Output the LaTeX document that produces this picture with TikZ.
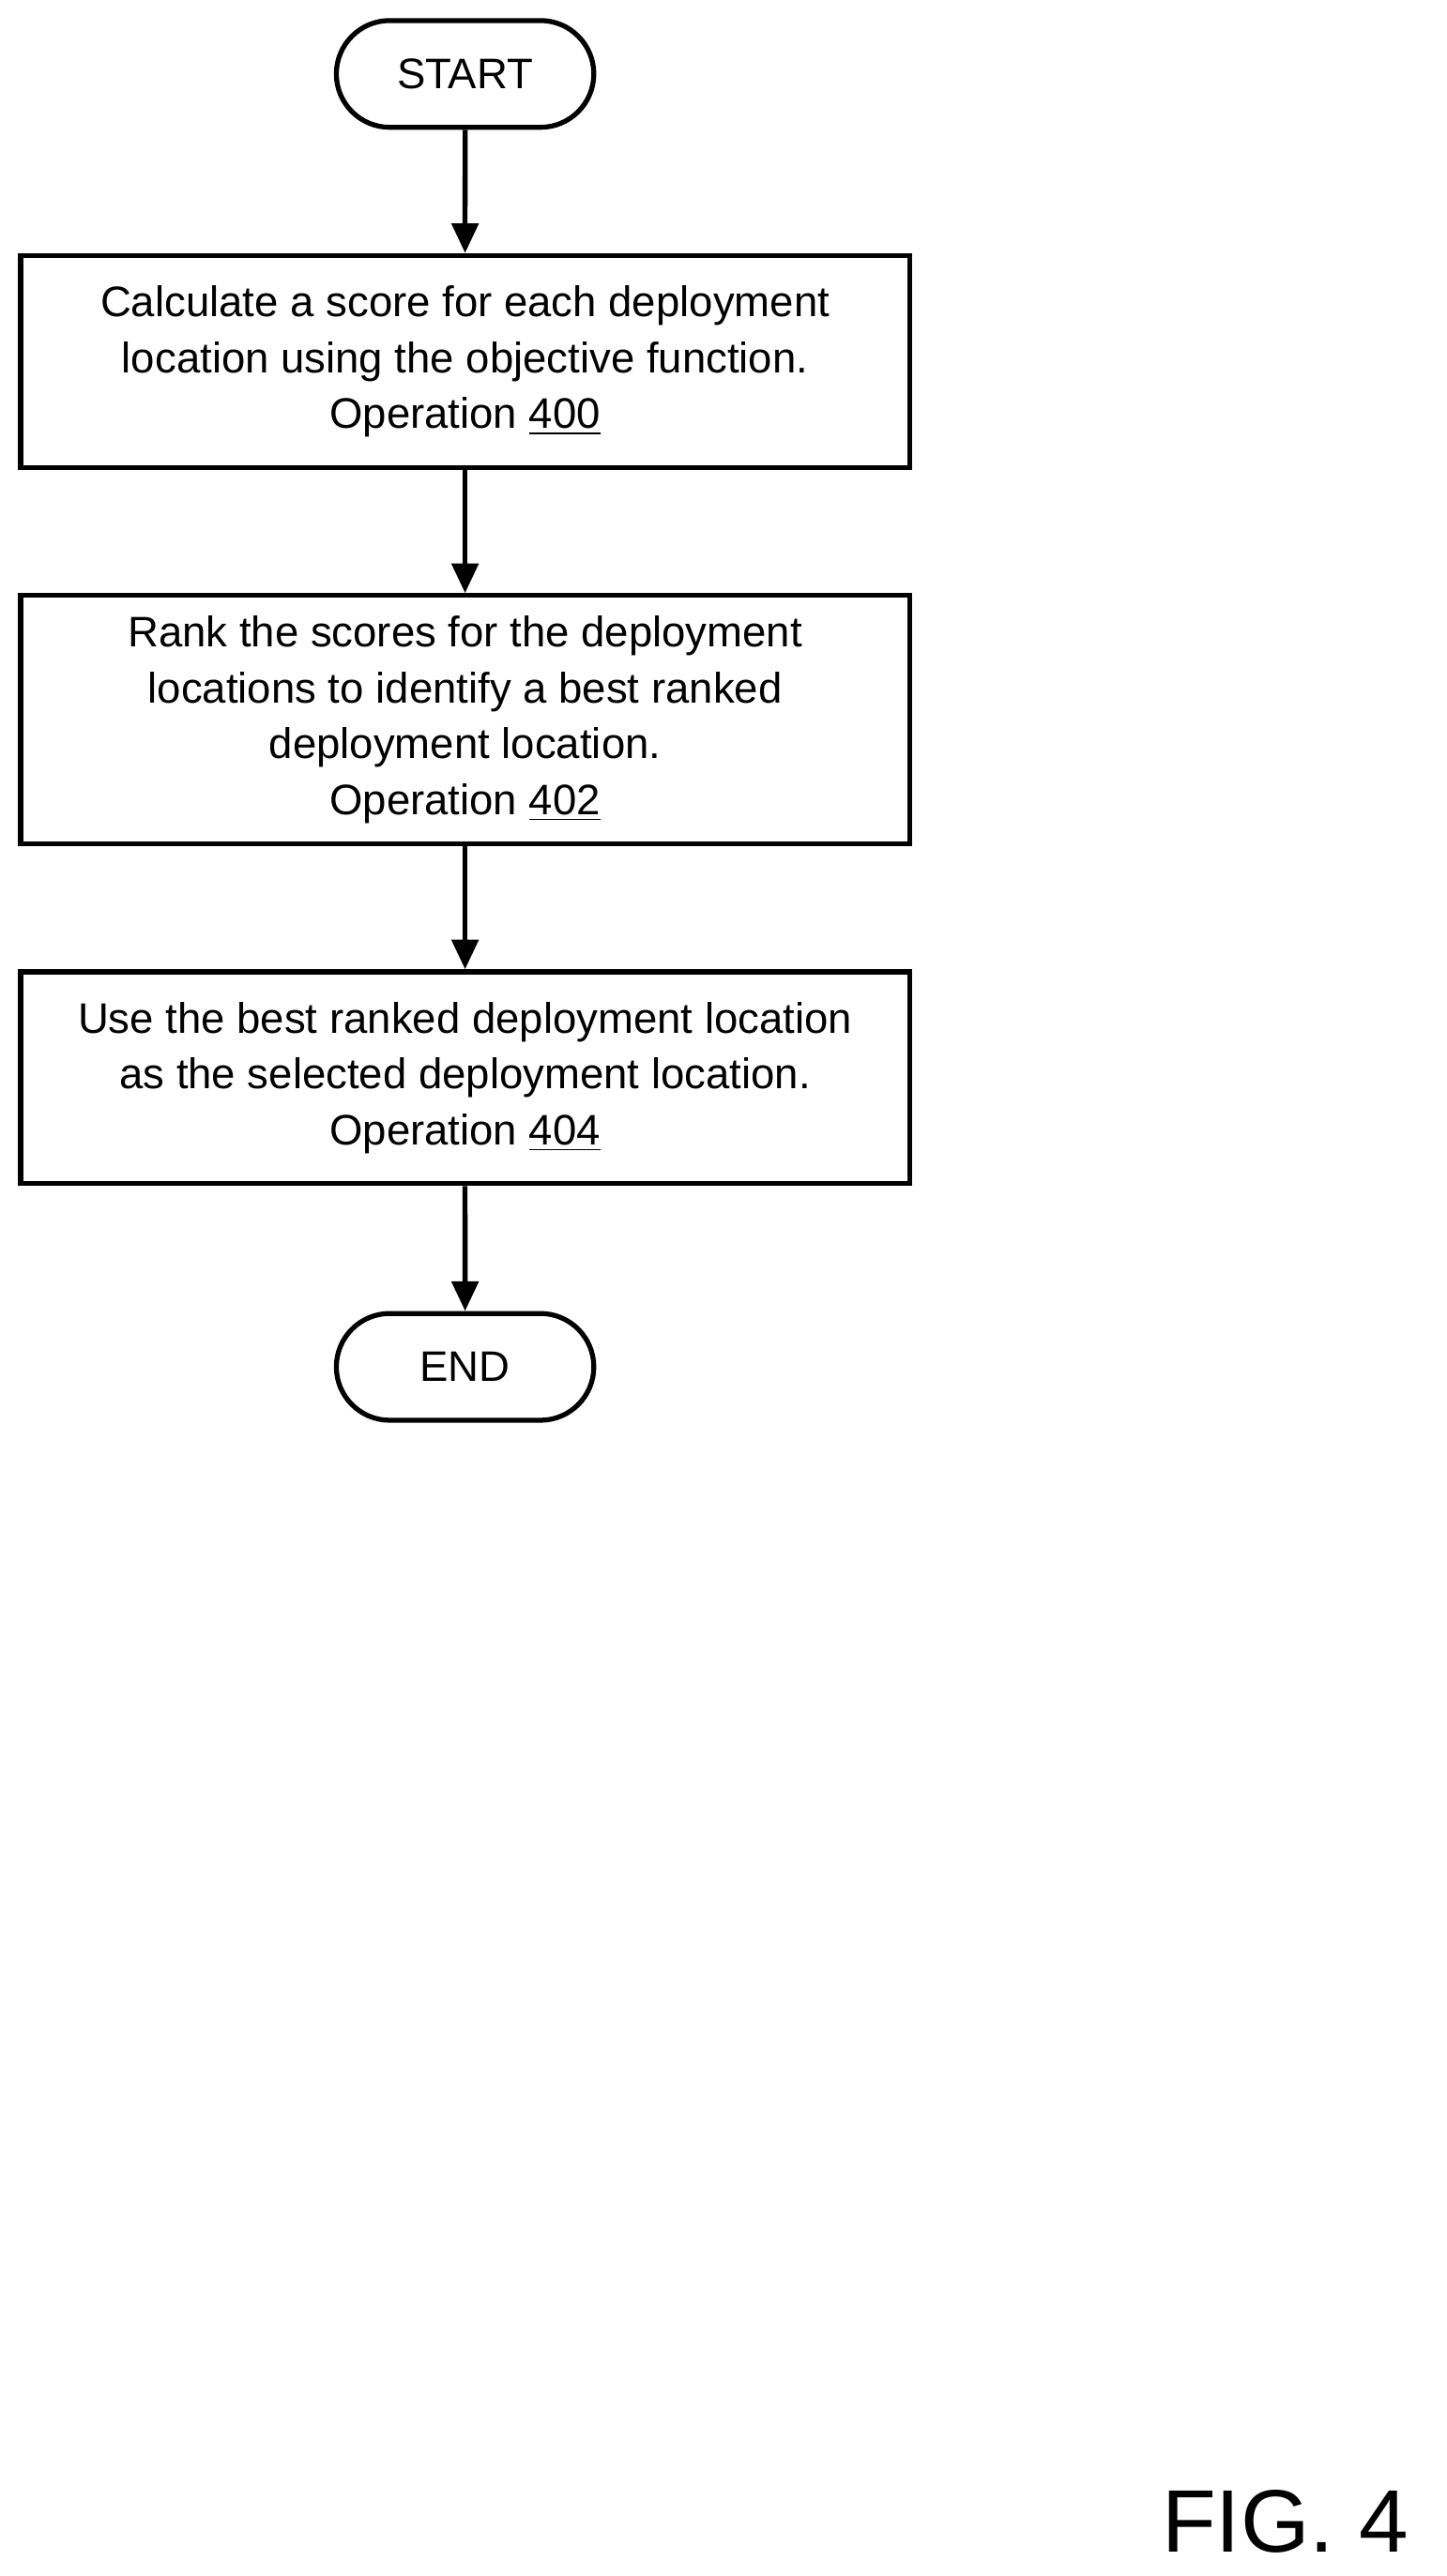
\documentclass[tikz,border=0pt]{standalone}
\usepackage{fontspec}
\setmainfont{Liberation Sans}
\usetikzlibrary{arrows.meta,shapes.misc}
\tikzset{
	opbox/.style={draw, line width=1.5pt, minimum width=270.5pt, align=center, inner sep=0pt, font=\fontsize{13}{17}\selectfont},
	term/.style={draw, line width=1.5pt, rounded rectangle, minimum width=85pt, minimum height=32.5pt, font=\fontsize{13}{17}\selectfont},
	flow/.style={line width=1.5pt, -{Triangle[length=9pt,width=8pt]}}
}
\begin{document}
\begin{tikzpicture}[x=0.5pt, y=-0.5pt]
	\useasboundingbox (0,0) rectangle (880,1568);
	%nodes
	\node[term] (start) at (283,45) {START};
	\node[opbox, minimum height=64.5pt] (calc) at (283,220) {Calculate a score for each deployment\\location using the objective function.\\Operation \underline{400}};
	\node[opbox, minimum height=75.5pt] (rank) at (283,438) {Rank the scores for the deployment\\locations to identify a best ranked\\deployment location.\\Operation \underline{402}};
	\node[opbox, minimum height=64.5pt] (use) at (283,656) {Use the best ranked deployment location\\as the selected deployment location.\\Operation \underline{404}};
	\node[term] (end) at (283,832) {END};
	%arrows
	\draw[flow] (start) -- (calc);
	\draw[flow] (calc) -- (rank);
	\draw[flow] (rank) -- (use);
	\draw[flow] (use) -- (end);
	%label
	\node[font=\fontsize{27}{30}\selectfont] (fig) at (782,1535) {FIG. 4};
\end{tikzpicture}
\end{document}
